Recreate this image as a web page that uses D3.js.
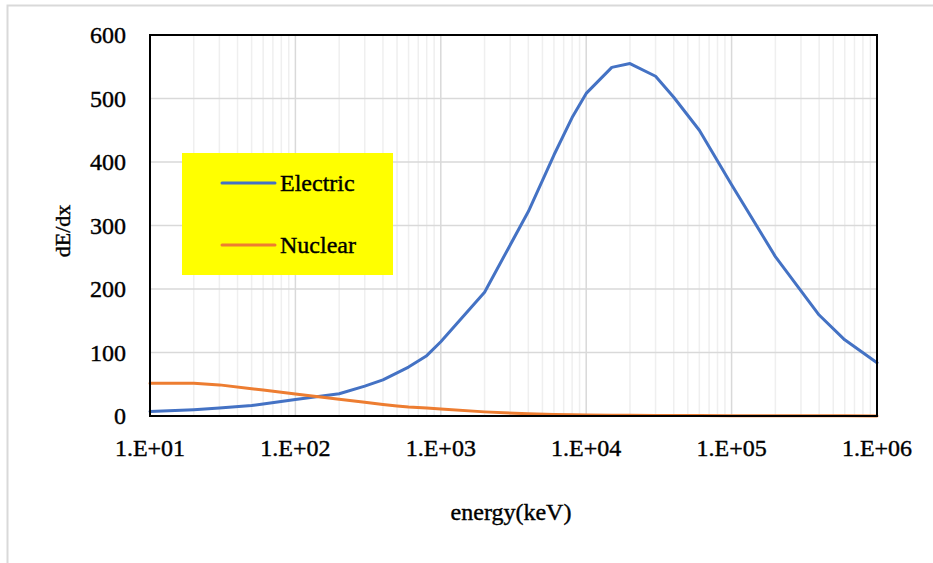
<!DOCTYPE html>
<html>
<head>
<meta charset="utf-8">
<script src="https://cdn.jsdelivr.net/npm/d3@7"></script>
<style>
  html, body { margin: 0; padding: 0; background: #fff; }
  svg { display: block; }
  text { font-family: "Liberation Serif", "Times New Roman", serif; fill: #000; stroke: #000; stroke-width: 0.4px; }
</style>
</head>
<body>
<svg id="chart" width="933" height="563"></svg>
<script>
// Stopping power vs. energy
const energy   = [10, 20, 30, 50, 60, 100, 200, 300, 400, 500, 600, 800, 1000, 2000, 4000, 6000, 8000,
                  10000, 15000, 20000, 30000, 40000, 60000, 100000, 200000, 400000, 600000, 1000000];
const electric = [7, 10, 12.5, 16.5, 19, 26, 35, 47, 57, 68, 77, 95, 117, 195, 322, 411, 470,
                  508, 549, 555, 535, 502, 450, 364, 251, 159, 120, 84];
const nuclear  = [51.5, 51.5, 49, 43, 41, 34.5, 26.5, 21.5, 18, 15.7, 14, 12.5, 11, 6.5, 3.5, 2.5, 2,
                  1.6, 1.3, 1.1, 0.9, 0.8, 0.6, 0.5, 0.4, 0.3, 0.2, 0.1];
const seriesNames = ["Electric", "Nuclear"];
const yTicks = [0, 100, 200, 300, 400, 500, 600];
const xTicks = [1e1, 1e2, 1e3, 1e4, 1e5, 1e6];
const xTickLabels = ["1.E+01", "1.E+02", "1.E+03", "1.E+04", "1.E+05", "1.E+06"];

const svg = d3.select("#chart");
const plot = { left: 150, top: 35, right: 877, bottom: 416 };

// outer chart border
svg.append("rect")
  .attr("x", 7.5).attr("y", 5.5).attr("width", 960).attr("height", 620)
  .attr("fill", "#fff").attr("stroke", "#d9d9d9").attr("stroke-width", 2);

const x = d3.scaleLog().domain([10, 1e6]).range([plot.left, plot.right]);
const y = d3.scaleLinear().domain([0, 600]).range([plot.bottom, plot.top]);

// minor vertical gridlines
const minor = [];
for (let d = 10; d < 1e6; d *= 10) for (let k = 2; k <= 9; k++) minor.push(d * k);
svg.append("g").selectAll("line").data(minor).join("line")
  .attr("x1", d => x(d)).attr("x2", d => x(d))
  .attr("y1", plot.top).attr("y2", plot.bottom)
  .attr("stroke", "#efefef").attr("stroke-width", 1.5);

// major vertical gridlines
svg.append("g").selectAll("line").data(xTicks).join("line")
  .attr("x1", d => x(d)).attr("x2", d => x(d))
  .attr("y1", plot.top).attr("y2", plot.bottom)
  .attr("stroke", "#d9d9d9").attr("stroke-width", 1.5);

// horizontal gridlines
svg.append("g").selectAll("line").data(yTicks).join("line")
  .attr("x1", plot.left).attr("x2", plot.right)
  .attr("y1", d => y(d)).attr("y2", d => y(d))
  .attr("stroke", "#d9d9d9").attr("stroke-width", 1.5);

// y tick labels
svg.append("g").selectAll("text").data(yTicks).join("text")
  .attr("x", 126).attr("y", d => y(d))
  .attr("text-anchor", "end").attr("dominant-baseline", "central")
  .attr("font-size", 24).text(d => d);

// x tick labels
svg.append("g").selectAll("text").data(xTicks).join("text")
  .attr("x", d => x(d)).attr("y", 448)
  .attr("text-anchor", "middle").attr("dominant-baseline", "central")
  .attr("font-size", 24).text((d, i) => xTickLabels[i]);

// series lines
const colors = ["#4472C4", "#ED7D31"];
const line = d3.line().x(d => x(d[0])).y(d => y(d[1]));
[electric, nuclear].forEach((vals, i) => {
  svg.append("path")
    .datum(energy.map((e, j) => [e, vals[j]]))
    .attr("d", line)
    .attr("fill", "none").attr("stroke", colors[i])
    .attr("stroke-width", 3).attr("stroke-linejoin", "round").attr("stroke-linecap", "round");
});

// plot frame
svg.append("rect")
  .attr("x", plot.left).attr("y", plot.top)
  .attr("width", plot.right - plot.left).attr("height", plot.bottom - plot.top)
  .attr("fill", "none").attr("stroke", "#000").attr("stroke-width", 2);

// axis titles
svg.append("text")
  .attr("transform", "translate(62,231) rotate(-90)")
  .attr("text-anchor", "middle").attr("dominant-baseline", "central")
  .attr("font-size", 22).text("dE/dx");
svg.append("text")
  .attr("x", 511).attr("y", 512)
  .attr("text-anchor", "middle").attr("dominant-baseline", "central")
  .attr("font-size", 24).text("energy(keV)");

// legend
const lg = svg.append("g");
lg.append("rect")
  .attr("x", 182).attr("y", 153).attr("width", 211).attr("height", 122)
  .attr("fill", "#ffff00");
seriesNames.forEach((name, i) => {
  const ly = 183 + i * 62;
  lg.append("line")
    .attr("x1", 222).attr("x2", 275).attr("y1", ly).attr("y2", ly)
    .attr("stroke", colors[i]).attr("stroke-width", 3).attr("stroke-linecap", "round");
  lg.append("text")
    .attr("x", 280).attr("y", ly)
    .attr("dominant-baseline", "central")
    .attr("font-size", 24).text(name);
});
</script>
</body>
</html>
